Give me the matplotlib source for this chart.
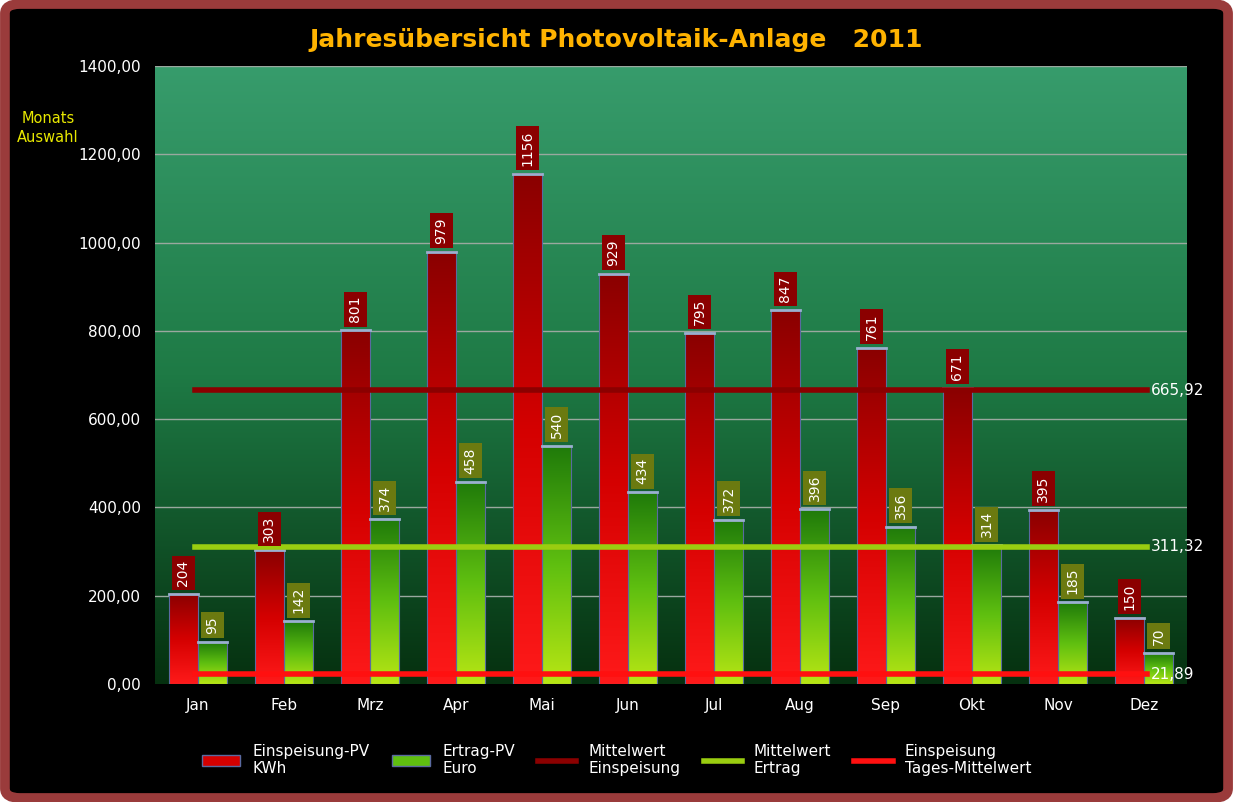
import numpy as np
import matplotlib.pyplot as plt
from matplotlib.colors import LinearSegmentedColormap
from matplotlib.patches import FancyBboxPatch, Rectangle
from matplotlib.lines import Line2D

# Daten
monate = ['Jan', 'Feb', 'Mrz', 'Apr', 'Mai', 'Jun', 'Jul', 'Aug', 'Sep', 'Okt', 'Nov', 'Dez']
einspeisung = [204, 303, 801, 979, 1156, 929, 795, 847, 761, 671, 395, 150]
ertrag = [95, 142, 374, 458, 540, 434, 372, 396, 356, 314, 185, 70]
mittel_einspeisung = 665.92
mittel_ertrag = 311.32
tages_mittel = 21.89
y_ticks = [0, 200, 400, 600, 800, 1000, 1200, 1400]

fig = plt.figure(figsize=(12.33, 8.02), dpi=100)
fig.patch.set_facecolor('white')

# Rahmen (hinter den Achsen)
frame = FancyBboxPatch((0.004, 0.005), 0.992, 0.99, boxstyle='round,pad=0,rounding_size=0.012',
                       transform=fig.transFigure, facecolor='black', edgecolor='#9a3b3b', linewidth=7,
                       zorder=-10)
fig.patches.append(frame)

ax = fig.add_axes([155 / 1233, 1 - 684 / 802, 1032 / 1233, 618 / 802])
ax.set_xlim(-0.5, 11.5)
ax.set_ylim(0, 1400)
ax.set_facecolor('none')

# Hintergrundverlauf
bg = LinearSegmentedColormap.from_list('bg', ['#05300f', '#1e7a45', '#379c6c'])
grad = np.linspace(0, 1, 256).reshape(-1, 1)
ax.imshow(grad, extent=(-0.5, 11.5, 0, 1400), origin='lower', cmap=bg, aspect='auto', zorder=0)

for y in y_ticks[1:]:
    ax.axhline(y, color='#9aa89f', linewidth=1, zorder=1)

red_cm = LinearSegmentedColormap.from_list('r', ['#ff1a1a', '#d40000', '#8a0000'])
green_cm = LinearSegmentedColormap.from_list('g', ['#b8e614', '#5fbf10', '#1f7a0a'])
x = np.arange(len(monate))
w = 0.33


def gradient_bar(xc, h, cmap):
    ax.imshow(grad, extent=(xc - w / 2, xc + w / 2, 0, h), origin='lower', cmap=cmap,
              aspect='auto', zorder=2)
    ax.add_patch(Rectangle((xc - w / 2, 0), w, h, fill=False, edgecolor='#5a6aa0', linewidth=0.8, zorder=3))
    ax.plot([xc - w / 2, xc + w / 2], [h, h], color='#9ab0d0', linewidth=2, zorder=3)


def value_box(xc, h, val, color):
    ax.text(xc, h + 18, str(val), rotation=90, ha='center', va='bottom', color='white', fontsize=10,
            zorder=5, bbox=dict(boxstyle='square,pad=0.3', facecolor=color, edgecolor='none'))


for i in x:
    gradient_bar(i - 0.17, einspeisung[i], red_cm)
    gradient_bar(i + 0.17, ertrag[i], green_cm)

ax.plot([-0.03, 11.03], [mittel_einspeisung] * 2, color='#8b0000', linewidth=4, zorder=4)
ax.plot([-0.03, 11.03], [mittel_ertrag] * 2, color='#9acd10', linewidth=4, zorder=4)
ax.plot([-0.03, 11.03], [tages_mittel] * 2, color='#ff1010', linewidth=4, zorder=4)

for i in x:
    value_box(i - 0.17, einspeisung[i], einspeisung[i], '#8b0000')
    value_box(i + 0.17, ertrag[i], ertrag[i], '#6b7a10')

for val in (mittel_einspeisung, mittel_ertrag, tages_mittel):
    ax.text(11.08, val, f'{val:.2f}'.replace('.', ','), color='white', fontsize=11, va='center', zorder=5)

ax.set_xticks(x)
ax.set_xticklabels(monate)
ax.set_yticks(y_ticks)
ax.set_yticklabels([f'{v},00' for v in y_ticks])
ax.tick_params(colors='white', labelsize=11, length=0, pad=10)
for s in ax.spines.values():
    s.set_visible(False)

fig.text(0.5, 1 - 40 / 802, 'Jahresübersicht Photovoltaik-Anlage   2011', ha='center', va='center',
         color='#ffb300', fontsize=18, fontweight='bold')
fig.text(48 / 1233, 1 - 128 / 802, 'Monats\nAuswahl', ha='center', va='center', color='#e8e800',
         fontsize=10.5, linespacing=1.4)

# Legende
handles = [
    Rectangle((0, 0), 1, 1, facecolor='#d40000', edgecolor='#5a6aa0'),
    Rectangle((0, 0), 1, 1, facecolor='#5fbf10', edgecolor='#5a6aa0'),
    Line2D([], [], color='#8b0000', linewidth=4),
    Line2D([], [], color='#9acd10', linewidth=4),
    Line2D([], [], color='#ff1010', linewidth=4),
]
labels = ['Einspeisung-PV\nKWh', 'Ertrag-PV\nEuro', 'Mittelwert\nEinspeisung', 'Mittelwert\nErtrag',
          'Einspeisung\nTages-Mittelwert']
leg = fig.legend(handles, labels, loc='center', bbox_to_anchor=(0.5, 1 - 760 / 802), ncol=5,
                 frameon=False, fontsize=11, labelcolor='white', handlelength=2.5, columnspacing=1.5)

fig.savefig('out.png', dpi=100, facecolor=fig.get_facecolor())
